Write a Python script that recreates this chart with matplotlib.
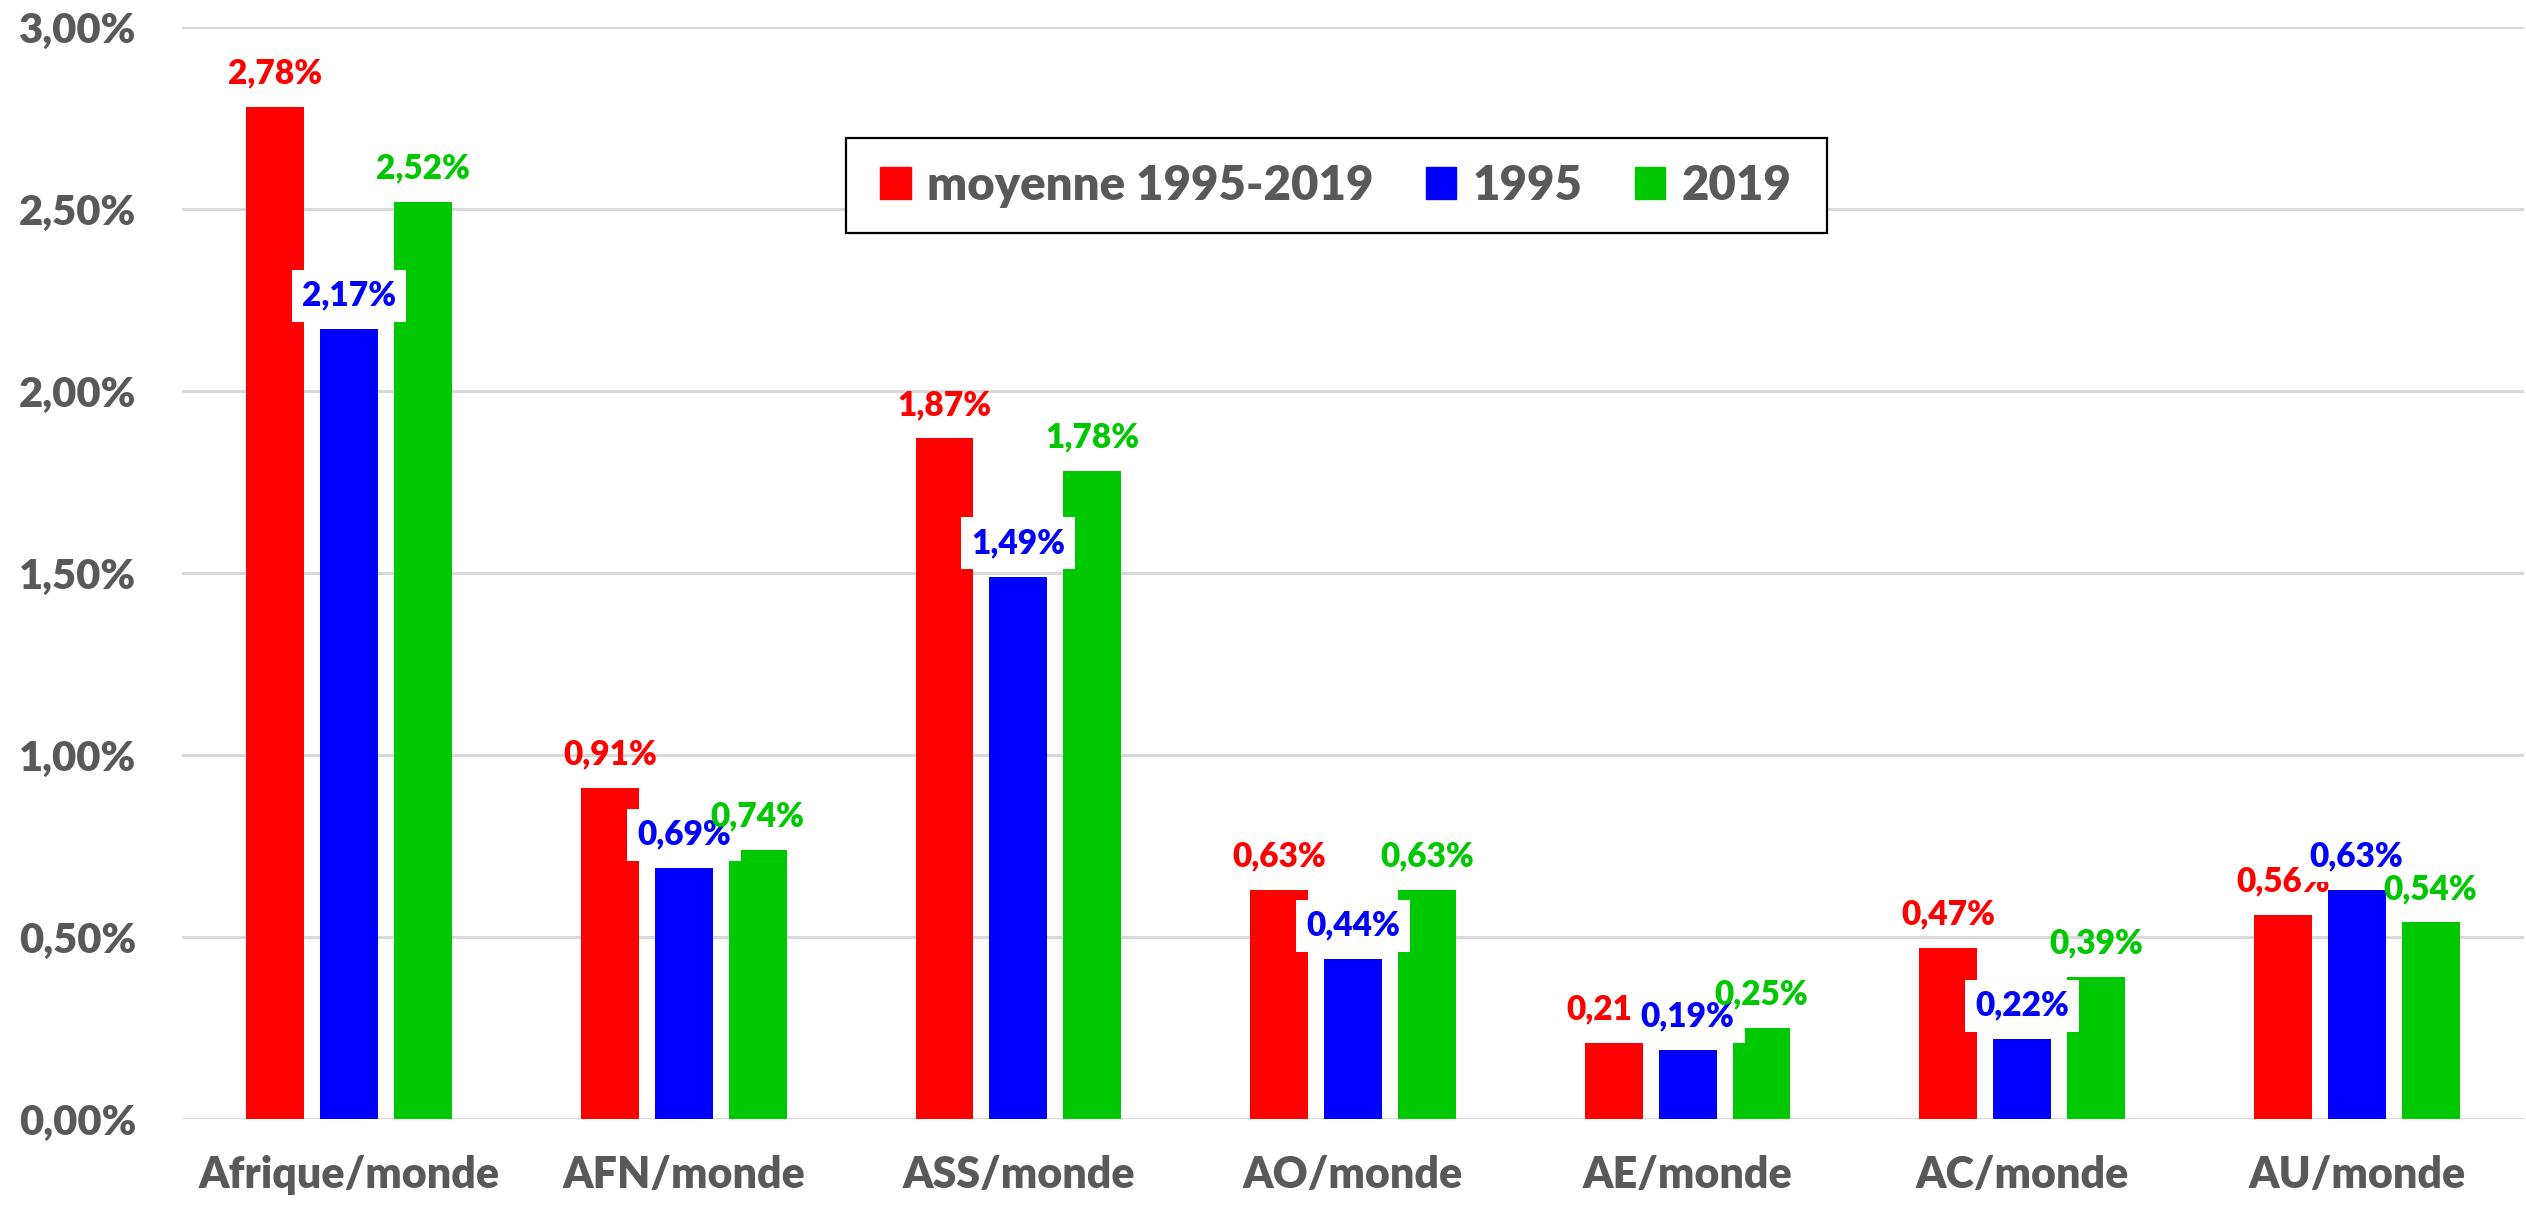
import matplotlib
matplotlib.use("Agg")
import matplotlib.pyplot as plt
from matplotlib.patches import Patch, Rectangle
import numpy as np

plt.rcParams['font.family'] = ['Lato', 'DejaVu Sans']
plt.rcParams['font.weight'] = 'heavy'

categories = ["Afrique/monde", "AFN/monde", "ASS/monde", "AO/monde", "AE/monde", "AC/monde", "AU/monde"]
series_names = ["moyenne 1995-2019", "1995", "2019"]
moyenne = [2.78, 0.91, 1.87, 0.63, 0.21, 0.47, 0.56]
v1995 = [2.17, 0.69, 1.49, 0.44, 0.19, 0.22, 0.63]
v2019 = [2.52, 0.74, 1.78, 0.63, 0.25, 0.39, 0.54]
yticks = [0.0, 0.5, 1.0, 1.5, 2.0, 2.5, 3.0]

colors = ["#FF0000", "#0000FF", "#00C800"]
gray = "#595959"
WEIGHT = "heavy"

W, H = 2526, 1207
fig = plt.figure(figsize=(W / 100, H / 100), dpi=100)
ax = fig.add_axes([182 / W, 88 / H, (2524 - 182) / W, 1092 / H])

x = np.arange(len(categories))
offsets = [-0.221, 0.0, 0.221]
bw = 0.173
data = [moyenne, v1995, v2019]
for i, (vals, c) in enumerate(zip(data, colors)):
    ax.bar(x + offsets[i], vals, width=bw, color=c, zorder=2)

for i, (vals, c) in enumerate(zip(data, colors)):
    for xi, v in zip(x, vals):
        txt = ("%.2f" % v).replace(".", ",") + "%"
        kw = {}
        if i == 1:
            kw["bbox"] = dict(boxstyle="square,pad=0.3", fc="white", ec="none")
        ax.annotate(txt, xy=(xi + offsets[i], v), xytext=(0, 24), textcoords="offset points",
                    ha="center", va="center", color=c, fontsize=24, fontweight=WEIGHT,
                    zorder=5 + i, **kw)

ax.set_xlim(-0.5, len(categories) - 0.5)
ax.set_ylim(0, 3.0)
ax.set_yticks(yticks)
ax.set_yticklabels([("%.2f" % t).replace(".", ",") + "%" for t in yticks])
ax.set_xticks(x)
ax.set_xticklabels(categories)
ax.tick_params(axis="y", length=0, pad=33, labelsize=30, labelcolor=gray)
ax.tick_params(axis="x", length=0, pad=26, labelsize=31, labelcolor=gray)
for lab in ax.get_xticklabels() + ax.get_yticklabels():
    lab.set_fontweight(WEIGHT)
ax.grid(axis="y", color="#D9D9D9", linewidth=2.2, zorder=0)
ax.set_axisbelow(True)
for s in ax.spines.values():
    s.set_visible(False)

# legend box
fig.patches.append(Rectangle((846 / W, 1 - 233 / H), (1827 - 846) / W, (233 - 138) / H,
                             transform=fig.transFigure, fill=True, fc="white", ec="black",
                             lw=1.6, zorder=3))
handles = [Patch(color=c, label=n) for c, n in zip(colors, series_names)]
leg = fig.legend(handles=handles, loc="center", bbox_to_anchor=(1336 / W, 1 - 185.5 / H),
                 ncol=3, frameon=False, fontsize=34, handlelength=0.65, handleheight=0.65,
                 handletextpad=0.35, columnspacing=1.1, borderpad=0.2)
for t in leg.get_texts():
    t.set_color(gray)
    t.set_fontweight(WEIGHT)
leg.set_zorder(10)

fig.savefig("out.png", dpi=100)
